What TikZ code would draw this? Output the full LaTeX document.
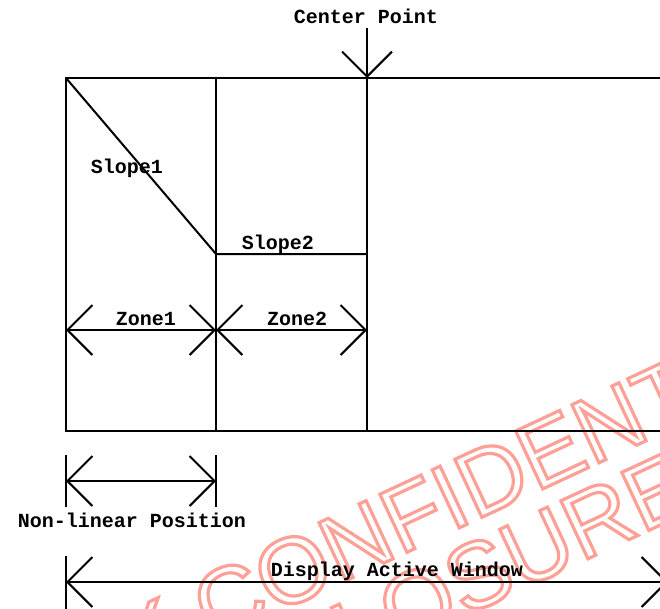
\documentclass[tikz,border=0pt]{standalone}
\usepackage{fontspec}
\setmainfont{Liberation Sans}
\setmonofont{Liberation Mono}
\usetikzlibrary{arrows.meta}
\definecolor{cMark}{HTML}{FFA096}
% stroked (hollow) letters for the watermark
\newcommand{\hollow}[1]{\special{pdf:literal 1 Tr 3.2 w}#1\special{pdf:literal 0 Tr}}

\begin{document}
\begin{tikzpicture}[
  x=1pt,y=-1pt,
  ln/.style={line width=2pt,draw=black},
  vtip/.tip={Straight Barb[length=25pt,width=50pt]},
  dim/.style={ln,{vtip}-{vtip}},
  lbl/.style={font=\ttfamily\bfseries\fontsize{20}{22}\selectfont,inner sep=0pt,anchor=base},
  wmark/.style={font=\fontsize{93}{100}\selectfont,text=cMark,inner sep=0pt,anchor=base west,rotate=25}
]
\useasboundingbox (0,0) rectangle (660,608);
\clip (0,0) rectangle (660,608);

%======================= WATERMARK =======================
\node[wmark] (wm1) at (133,680) {\hollow{K CONFIDENTIAL}};
\node[wmark] (wm2) at (150,763) {\hollow{DISCLOSURE}};

%======================= FRAME =======================
\coordinate (tl) at (66,78);   \coordinate (tm) at (216,78);
\coordinate (tc) at (367,78);  \coordinate (tr) at (680,78);
\coordinate (bl) at (66,431);  \coordinate (bm) at (216,431);
\coordinate (bc) at (367,431); \coordinate (br) at (680,431);
\coordinate (knee) at (216,254);
\coordinate (flat) at (367,254);

\draw[ln] (tr) -- (tl) -- (bl) -- (br);
\draw[ln] (tm) -- (bm);
\draw[ln] (tc) -- (bc);
\draw[ln] (tl) -- (knee) -- (flat);

%======================= CENTER POINT =======================
\node[lbl] (cp) at (366,23) {Center Point};
\coordinate (cpTop) at (367,28);
\draw[ln,-{vtip}] (cpTop) -- (tc);

\node[lbl] (s1) at (127,173) {Slope1};
\node[lbl] (s2) at (278,249) {Slope2};

%======================= ZONES =======================
\coordinate (z0) at (66,330);
\coordinate (zm) at (216,330);
\coordinate (zc) at (367,330);
\draw[dim] (z0) -- (zm);
\draw[dim] (zm) -- (zc);
\node[lbl] (zone1) at (146,325) {Zone1};
\node[lbl] (zone2) at (297,325) {Zone2};

%======================= NON-LINEAR POSITION =======================
\coordinate (n0) at (66,481);   \coordinate (n1) at (216,481);
\coordinate (n0t) at (66,455);  \coordinate (n0b) at (66,507);
\coordinate (n1t) at (216,455); \coordinate (n1b) at (216,507);
\draw[ln] (n0t) -- (n0b);
\draw[ln] (n1t) -- (n1b);
\draw[dim] (n0) -- (n1);
\node[lbl] (nl) at (132,527) {Non-linear Position};

%======================= DISPLAY ACTIVE WINDOW =======================
\coordinate (w0) at (66,582);   \coordinate (w1) at (668,582);
\coordinate (w0t) at (66,556);  \coordinate (w0b) at (66,612);
\coordinate (w1t) at (668,556); \coordinate (w1b) at (668,612);
\draw[ln] (w0t) -- (w0b);
\draw[ln] (w1t) -- (w1b);
\draw[dim] (w0) -- (w1);
\node[lbl] (daw) at (397,576) {Display Active Window};

\end{tikzpicture}
\end{document}
